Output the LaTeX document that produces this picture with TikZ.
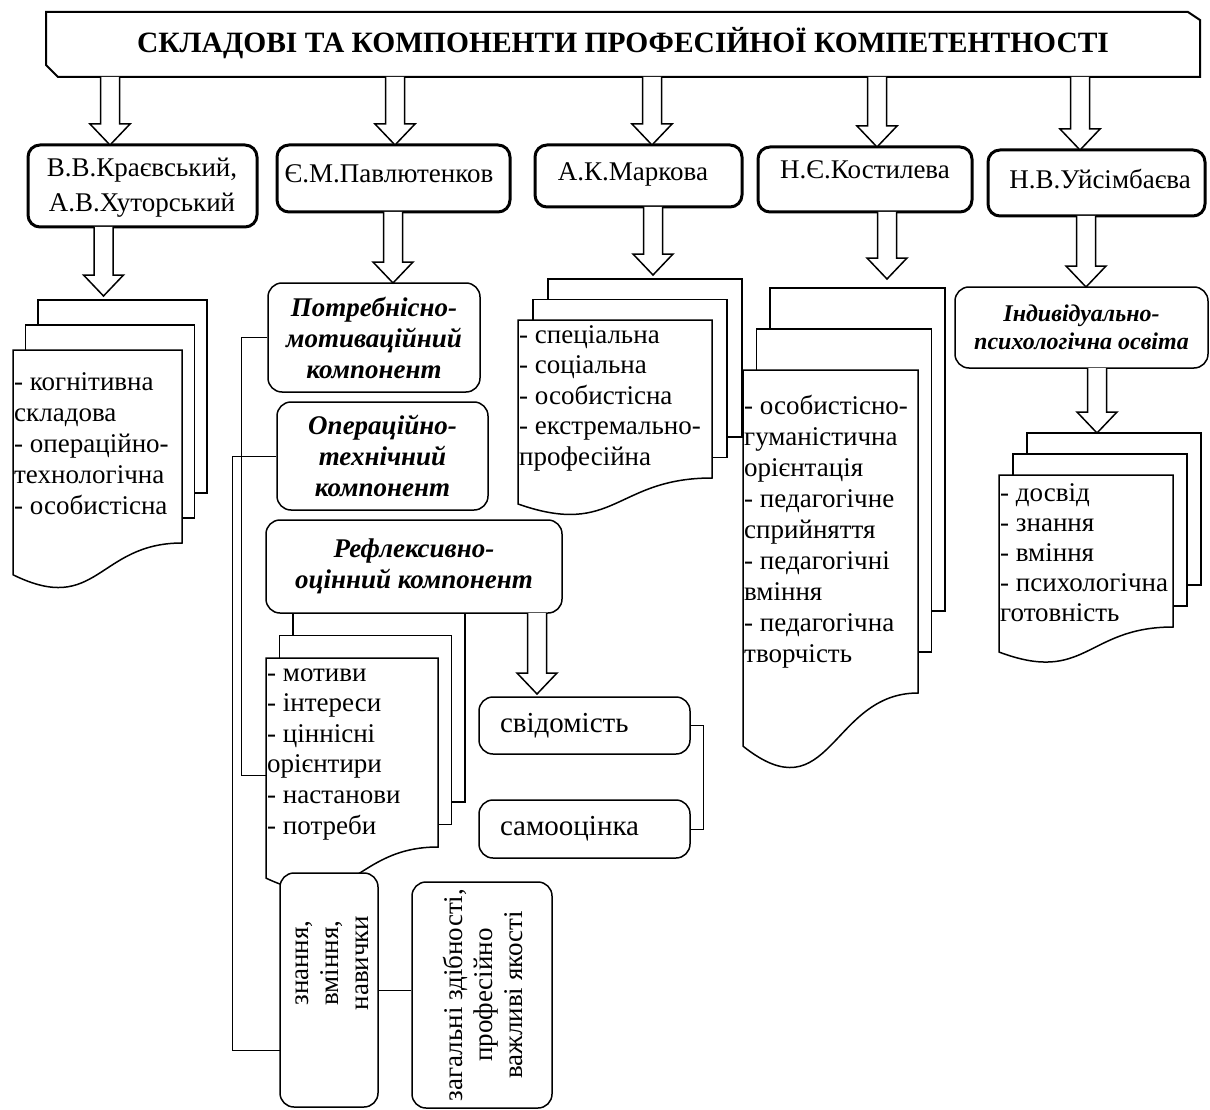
\documentclass[tikz,border=0pt]{standalone}
\usepackage{fontspec}
\setmainfont{Liberation Serif}
\newcommand\blkarr[3]{% x, ytop, ytip
  \draw[arrowline] (#1-9.5,#2) -- (#1-9.5,#3-21) -- (#1-20,#3-21) -- (#1,#3) -- (#1+20,#3-21) -- (#1+9.5,#3-21) -- (#1+9.5,#2);}
\newcommand\docstack[6]{% L, T, W, H, dx, dy
  \path[sheet] (#1+2*#5,#2-2*#6) rectangle (#1+2*#5+#3,#2-2*#6+#4);
  \path[sheet] (#1+#5,#2-#6) rectangle (#1+#5+#3,#2-#6+#4);
  \path[sheet] (#1,#2) -- (#1+#3,#2) -- (#1+#3,#2+#4)
     .. controls (#1+#3/2,#2+#4) and (#1+#3/2,#2+1.38*#4) .. (#1,#2+1.1646*#4) -- cycle;}
\begin{document}
\begin{tikzpicture}[x=1pt,y=-1pt,
  authbox/.style={draw, line width=3pt, rounded corners=12pt, fill=white, inner sep=0},
  compbox/.style={draw, line width=1.5pt, rounded corners=14pt, fill=white, inner sep=0},
  sheet/.style={draw, line width=1.5pt, fill=white, line join=miter},
  arrowline/.style={line width=1.5pt, fill=white, line join=miter},
  conn/.style={draw, line width=1pt},
  txt/.style={inner sep=0, align=center, font=\fontsize{27}{31}\selectfont},
  bitxt/.style={inner sep=0, align=center, font=\fontsize{27}{31}\selectfont\bfseries\itshape},
  listtxt/.style={inner sep=0, align=left, anchor=base west}]
\useasboundingbox (0,0) rectangle (1210,1110);

% document stacks
\docstack{13}{350}{169}{193}{12.5}{25}
\docstack{518}{320}{194}{158}{15}{20.5}
\docstack{743}{370}{175}{323}{13.5}{41}
\docstack{999}{475}{174}{152}{14}{21}
\docstack{266}{658}{172}{189}{13.5}{22.5}

% list texts (anchored at the baseline of the last line)
\node[listtxt, font=\fontsize{27}{30.8}\selectfont] (krl) at (14,514) {- когнітивна\\складова\\- операційно-\\технологічна\\- особистісна};
\node[listtxt, font=\fontsize{27}{30.5}\selectfont] (mkl) at (519,465) {- спеціальна\\- соціальна\\- особистісна\\- екстремально-\\професійна};
\node[listtxt, font=\fontsize{27}{31}\selectfont] (ksl) at (744,662) {- особистісно-\\гуманістична\\орієнтація\\- педагогічне\\сприйняття\\- педагогічні\\вміння\\- педагогічна\\творчість};
\node[listtxt, font=\fontsize{27}{30}\selectfont] (usl) at (1000,621) {- досвід\\- знання\\- вміння\\- психологічна\\готовність};
\node[listtxt, font=\fontsize{27}{30.6}\selectfont] (mvl) at (267,834) {- мотиви\\- інтереси\\- ціннісні\\орієнтири\\- настанови\\- потреби};
\coordinate (mvL) at (266,775);
\coordinate (znL) at (280,1050);

% title
\draw[line width=2pt, fill=white, line join=miter] (46,12) -- (1188,12) -- (1200,20) -- (1200,77) -- (58,77) -- (46,65) -- cycle;
\node[txt, font=\fontsize{29.5}{31}\selectfont\bfseries] (title) at (623,43) {СКЛАДОВІ ТА КОМПОНЕНТИ ПРОФЕСІЙНОЇ КОМПЕТЕНТНОСТІ};

% author boxes
\node[authbox, minimum width=229, minimum height=82] (kr) at (142.5,186) {};
\node[txt, font=\fontsize{27}{35}\selectfont] (krt) at (142,188) {В.В.Краєвський,\\А.В.Хуторський};
\node[authbox, minimum width=233, minimum height=67] (pv) at (393.5,178.5) {};
\node[txt] (pvt) at (389,174) {Є.М.Павлютенков};
\node[authbox, minimum width=207, minimum height=62] (mk) at (638.5,176) {};
\node[txt] (mkt) at (633,174) {А.К.Маркова};
\node[authbox, minimum width=214, minimum height=65] (ks) at (865,179.5) {};
\node[txt] (kst) at (865,170) {Н.Є.Костилева};
\node[authbox, minimum width=217, minimum height=66] (us) at (1096.5,183) {};
\node[txt] (ust) at (1100,179) {Н.В.Уйсімбаєва};

% component boxes
\node[compbox, bitxt, minimum width=212, minimum height=109] (pm) at (374,337.5) {Потребнісно-\\мотиваційний\\компонент};
\node[compbox, bitxt, minimum width=211, minimum height=108] (ot) at (382.5,456) {Операційно-\\технічний\\компонент};
\node[compbox, bitxt, minimum width=296, minimum height=93] (rf) at (414,566.5) {Рефлексивно-\\оцінний компонент};
\node[compbox, bitxt, font=\fontsize{24}{28}\selectfont\bfseries\itshape, minimum width=253, minimum height=81] (ip) at (1081.5,327.5) {Індивідуально-\\психологічна освіта};
\node[compbox, txt, font=\fontsize{29}{31}\selectfont, text width=169, align=left, minimum width=211, minimum height=57] (sv) at (584.5,725.5) {свідомість};
\node[compbox, txt, font=\fontsize{29}{31}\selectfont, text width=169, align=left, minimum width=211, minimum height=58] (so) at (584.5,829) {самооцінка};
\node[compbox, minimum width=98, minimum height=234] (zn) at (329,990) {};
\node[txt, font=\fontsize{27}{30}\selectfont, rotate=90] (znt) at (332,963) {знання,\\вміння,\\навички};
\node[compbox, minimum width=140, minimum height=226] (zg) at (482,995) {};
\node[txt, font=\fontsize{27}{30}\selectfont, rotate=90] (zgt) at (483,995) {загальні здібності,\\професійно\\важливі якості};

% block arrows
\blkarr{110}{77}{145}
\blkarr{395}{77}{145}
\blkarr{652}{77}{145}
\blkarr{877}{77}{147}
\blkarr{1080}{77}{150}
\blkarr{103.5}{227}{296}
\blkarr{393}{212}{283}
\blkarr{653}{207}{275}
\blkarr{887}{212}{279}
\blkarr{1086}{216}{287}
\blkarr{1097}{368}{433}
\blkarr{537}{613}{694}

% connectors
\draw[conn] (pm.west) -- ++(-26,0) |- (mvL);
\draw[conn] (ot.west) -- ++(-44,0) |- (znL);
\draw[conn] (sv.east) -- ++(13,0) |- (so.east);
\draw[conn] (zn.east) -- (zn.east -| zg.west);
\end{tikzpicture}
\end{document}
